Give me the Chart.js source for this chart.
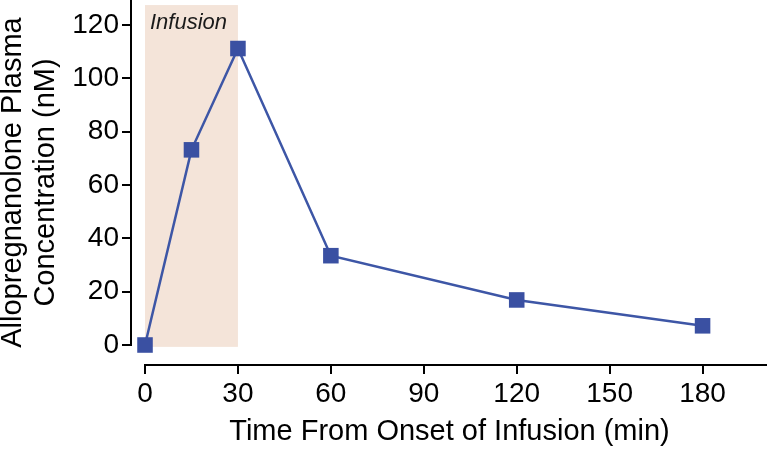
<!DOCTYPE html>
<html>
<head>
<meta charset="utf-8">
<script src="https://cdn.jsdelivr.net/npm/chart.js@4.4.0/dist/chart.umd.min.js"></script>
<style>
  html, body { margin: 0; padding: 0; background: #ffffff; }
  .Chart_box { width: 767px; height: 451px; }
</style>
</head>
<body>
<div class="Chart_box"><canvas id="Chart"></canvas></div>
<script>
// data
const timeMin = [0, 15, 30, 60, 120, 180];
const concentration = [0, 73.2, 111.2, 33.5, 16.9, 7.2];
const xTicks = [0, 30, 60, 90, 120, 150, 180];
const yTicks = [0, 20, 40, 60, 80, 100, 120];
const infusionWindow = [0, 30];      // minutes
const infusionBand = [-0.7, 127.5];  // nM, vertical extent of the shaded box
const infusionLabel = 'Infusion';

const FONT = "'Liberation Sans', Arial, Helvetica, sans-serif";

// shaded infusion period + label, drawn behind the line
const infusionBox = {
    id: 'infusionBox',
    beforeDatasetsDraw(chart) {
        const ctx = chart.ctx;
        const x = chart.scales.x;
        const y = chart.scales.y;
        const x0 = x.getPixelForValue(infusionWindow[0]);
        const x1 = x.getPixelForValue(infusionWindow[1]);
        const y0 = y.getPixelForValue(infusionBand[1]);
        const y1 = y.getPixelForValue(infusionBand[0]);
        ctx.save();
        ctx.fillStyle = '#f4e4d9';
        ctx.fillRect(x0, y0, x1 - x0, y1 - y0);
        ctx.fillStyle = '#1a1a1a';
        ctx.font = 'italic 22px ' + FONT;
        ctx.textBaseline = 'alphabetic';
        ctx.fillText(infusionLabel, x0 + 5, y0 + 24);
        ctx.restore();
    }
};

// detached axis spines (y starts at 0, x starts at 0)
const spines = {
    id: 'spines',
    afterDraw(chart) {
        const ctx = chart.ctx;
        const area = chart.chartArea;
        const x = chart.scales.x;
        const y = chart.scales.y;
        ctx.save();
        ctx.strokeStyle = '#000000';
        ctx.lineWidth = 2;
        ctx.beginPath();
        ctx.moveTo(area.left - 1, y.getPixelForValue(yTicks[0]) + 1);
        ctx.lineTo(area.left - 1, 0);
        ctx.moveTo(x.getPixelForValue(xTicks[0]) - 1, area.bottom);
        ctx.lineTo(chart.width, area.bottom);
        ctx.stroke();
        ctx.restore();
    }
};

// plot area runs right up to the top and right edges of the canvas
// (chart.js keeps some room for the end tick labels otherwise)
const fillEdges = {
    id: 'fillEdges',
    afterLayout(chart) {
        const area = chart.chartArea;
        const x = chart.scales.x;
        const y = chart.scales.y;
        area.top = 0;
        area.right = chart.width;
        area.width = area.right - area.left;
        area.height = area.bottom - area.top;
        y.top = 0;
        y.height = y.bottom - y.top;
        y.configure();
        x.right = chart.width;
        x.width = x.right - x.left;
        x.configure();
    }
};

var chart = document.getElementById("Chart").getContext("2d");
const myChart = new Chart(chart, {
    type: 'line',
    data: {
        datasets: [{
            label: 'Allopregnanolone',
            data: timeMin.map((t, i) => ({ x: t, y: concentration[i] })),
            borderColor: '#3d56a6',
            backgroundColor: '#3a50a2',
            borderWidth: 2.5,
            pointStyle: 'rect',
            pointRadius: 11,
            pointBorderWidth: 0,
            tension: 0
        }]
    },
    options: {
        responsive: true,
        maintainAspectRatio: false,
        animation: false,
        layout: { padding: 0 },
        plugins: {
            legend: { display: false },
            tooltip: { enabled: false }
        },
        scales: {
            x: {
                type: 'linear',
                min: -4.2,
                max: 200.8,
                afterBuildTicks: (scale) => { scale.ticks = xTicks.map(v => ({ value: v })); },
                afterFit: (scale) => { scale.height = 86; },
                grid: { drawOnChartArea: false, drawTicks: true, tickLength: 9, color: '#000000', lineWidth: 2 },
                border: { display: false },
                ticks: { color: '#000000', font: { family: FONT, size: 28 }, padding: 3, maxRotation: 0, autoSkip: false },
                title: {
                    display: true,
                    text: 'Time From Onset of Infusion (min)',
                    color: '#000000',
                    font: { family: FONT, size: 29 },
                    padding: { top: 0, bottom: 2 }
                }
            },
            y: {
                type: 'linear',
                min: -7.5,
                max: 129.4,
                afterBuildTicks: (scale) => { scale.ticks = yTicks.map(v => ({ value: v })); },
                afterFit: (scale) => { scale.width = 132; },
                grid: { drawOnChartArea: false, drawTicks: true, tickLength: 10, color: '#000000', lineWidth: 2 },
                border: { display: false },
                ticks: { color: '#000000', font: { family: FONT, size: 28 }, padding: 3, autoSkip: false },
                title: {
                    display: true,
                    text: ['Allopregnanolone Plasma', 'Concentration (nM)'],
                    color: '#000000',
                    font: { family: FONT, size: 29, lineHeight: 1.15 },
                    padding: { top: -4, bottom: 0 }
                }
            }
        }
    },
    plugins: [fillEdges, infusionBox, spines]
});
</script>
</body>
</html>
